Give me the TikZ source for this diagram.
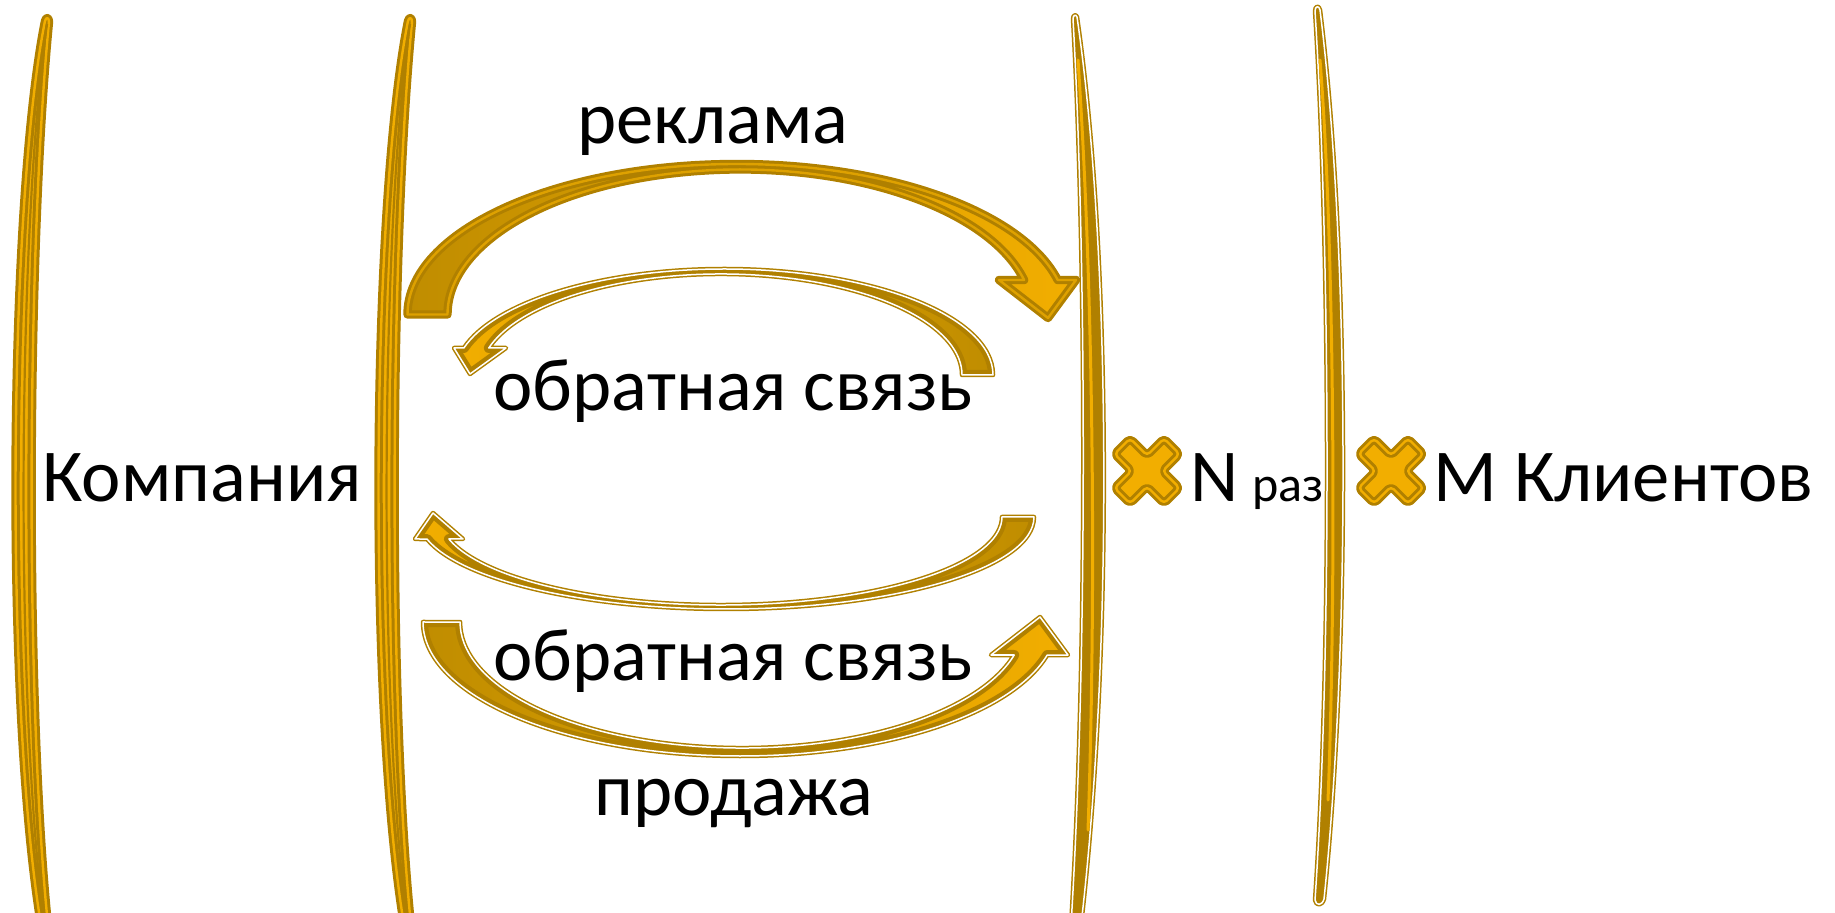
\documentclass[tikz,border=0pt]{standalone}
\usepackage{fontspec}
\setmainfont{Carlito}
\usepackage{tikz}

\definecolor{golddark}{RGB}{176,128,0}
\definecolor{goldmid}{RGB}{192,141,0}
\definecolor{goldlight}{RGB}{242,174,0}

\tikzset{
  thickrim/.style={draw=golddark, line width=1.5pt, double=#1, double distance=1.2pt, line join=round},
  thickrim/.default=goldlight,
  whiterim/.style={draw=golddark, line width=0.75pt, double=white, double distance=0.75pt, line join=round},
  innerband/.style={draw=golddark, line width=5pt, line join=round},
  lbl/.style={inner sep=0pt, font=\fontsize{37.3}{45}\selectfont},
  lblsmall/.style={inner sep=0pt, font=\fontsize{25}{30}\selectfont},
  lparen/.pic={
    \filldraw[fill=goldlight, thickrim] (41,925) .. controls (4,700) and (9,200) .. (45,21)
      .. controls (46,17) and (49,17) .. (49,22) .. controls (27,250) and (25,700) .. (48,925) -- cycle;
    \draw[golddark, line width=1.1pt] (44.5,925) .. controls (14.5,700) and (18,225) .. (47,24);
  },
  mult/.pic={
    \filldraw[fill=goldlight, thickrim, rotate=45, rounded corners=2pt]
      (-11,35) -- (11,35) -- (11,11) -- (35,11) -- (35,-11) -- (11,-11) -- (11,-35) -- (-11,-35)
      -- (-11,-11) -- (-35,-11) -- (-35,11) -- (-11,11) -- cycle;
  }
}

% arrow outlines
\def\arrowAd{(407.5,314.5) arc[start angle=180, end angle=346.75, x radius=329.5, y radius=150.5]
  -- (1076,280) -- (1048,318) -- (999,280) -- (1024.1,280)
  arc[start angle=346.24, end angle=180, x radius=292.5, y radius=145] -- cycle}
\def\arrowFbA{(993,375) arc[start angle=360, end angle=194.76, x radius=269, y radius=106]
  -- (454,348) -- (470,374) -- (506,348) -- (488.8,348)
  arc[start angle=195.5, end angle=360, x radius=241, y radius=101] -- cycle}
\def\arrowFbB{(1034,517) arc[start angle=0, end angle=166.16, x radius=308, y radius=92]
  -- (415,539) -- (433,513) -- (463,539) -- (448.9,539)
  arc[start angle=165.52, end angle=0, x radius=281, y radius=88] -- cycle}
\def\arrowSale{(423,622) arc[start angle=180, end angle=14.26, x radius=317, y radius=134]
  -- (1068,655) -- (1040,617) -- (991,655) -- (1014.2,655)
  arc[start angle=15.18, end angle=180, x radius=282, y radius=126] -- cycle}

\begin{document}
\begin{tikzpicture}[x=0.5pt, y=-0.5pt]
  \useasboundingbox (0,0) rectangle (1835,913);

  % left brackets
  \pic at (0,0) {lparen};
  \pic at (363,0) {lparen};

  % right brackets
  \filldraw[fill=golddark, whiterim] (1073,19) .. controls (1086,250) and (1088,650) .. (1071,925)
    -- (1081,925) .. controls (1113,650) and (1111,250) .. (1077,17)
    .. controls (1076,14) and (1073,15) .. (1073,19) -- cycle;
  \draw[goldlight, line width=1.5pt, line cap=round] (1078,60) .. controls (1094,300) and (1096,600) .. (1088,830);
  \filldraw[fill=golddark, whiterim] (1315,11) .. controls (1330,250) and (1332,650) .. (1315,900)
    .. controls (1316,906) and (1322,906) .. (1324,899) .. controls (1350,650) and (1350,250) .. (1320,10)
    .. controls (1319,5) and (1315,6) .. (1315,11) -- cycle;
  \draw[goldlight, line width=1.5pt, line cap=round] (1320,60) .. controls (1335,250) and (1336,600) .. (1328,800);

  % advertising arrow
  \shadedraw[left color=goldmid, middle color=goldmid, right color=goldlight, thickrim=goldmid!40!goldlight] \arrowAd;

  % feedback arrows
  \shade[left color=goldlight, middle color=goldmid, right color=goldmid] \arrowFbA;
  \begin{scope}
    \clip \arrowFbA;
    \draw[innerband] \arrowFbA;
  \end{scope}
  \draw[whiterim] \arrowFbA;

  \shade[left color=goldlight, middle color=goldmid, right color=goldmid] \arrowFbB;
  \begin{scope}
    \clip \arrowFbB;
    \draw[innerband] \arrowFbB;
  \end{scope}
  \draw[whiterim] \arrowFbB;

  % sale arrow
  \shade[left color=goldmid, middle color=goldmid, right color=goldlight] \arrowSale;
  \begin{scope}
    \clip \arrowSale;
    \draw[innerband] \arrowSale;
  \end{scope}
  \draw[whiterim] \arrowSale;

  % multiplication signs
  \pic at (1147,471) {mult};
  \pic at (1391,471) {mult};

  \node[lbl, anchor=base] (komp) at (202,502) {Компания};
  \node[lbl, anchor=base] (reklama) at (713,144) {реклама};
  \node[lbl, anchor=base] (obr1) at (733,411) {обратная связь};
  \node[lbl, anchor=base] (obr2) at (733,680) {обратная связь};
  \node[lbl, anchor=base] (prod) at (734,815) {продажа};
  \node[lbl, anchor=base west] (n) at (1190,502) {N};
  \node[lblsmall, anchor=base west] (raz) at (1252,502) {раз};
  \node[lbl, anchor=base west] (mkl) at (1433,502) {M Клиентов};
\end{tikzpicture}
\end{document}
